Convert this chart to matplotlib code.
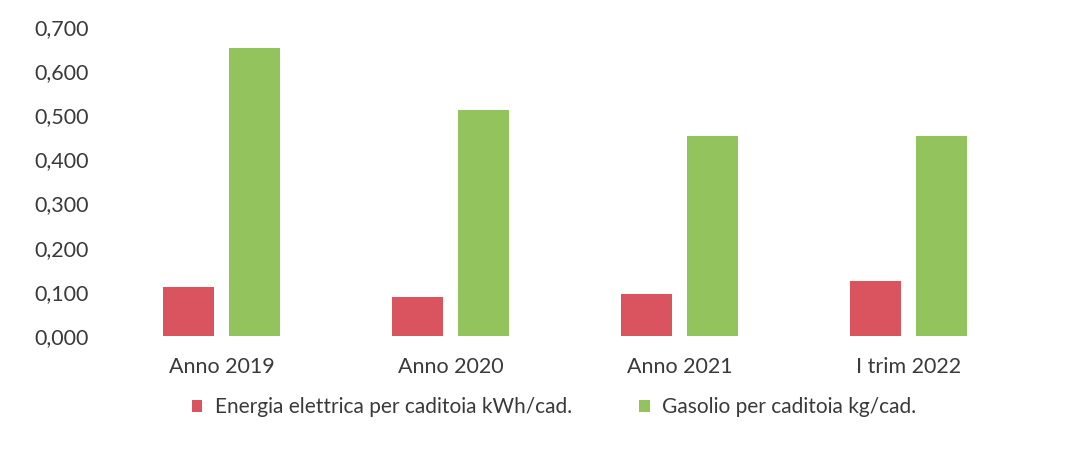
import matplotlib.pyplot as plt
import numpy as np
from matplotlib.ticker import FuncFormatter

plt.rcParams['font.family'] = ['Lato', 'DejaVu Sans']

categorie = ['Anno 2019', 'Anno 2020', 'Anno 2021', 'I trim 2022']
energia = [0.111, 0.088, 0.095, 0.125]
gasolio = [0.653, 0.512, 0.454, 0.454]
serie = ['Energia elettrica per caditoia kWh/cad.', 'Gasolio per caditoia kg/cad.']

fig = plt.figure(figsize=(10.74, 4.59), dpi=100)
ax = fig.add_axes([107 / 1074, 1 - 336 / 459, (1023 - 107) / 1074, (336 - 27) / 459])

x = np.arange(len(categorie))
w = 0.223
ax.bar(x - 0.145, energia, w, color='#d9545f', label=serie[0])
ax.bar(x + 0.145, gasolio, w, color='#93c35c', label=serie[1])

ax.set_xlim(-0.5, len(categorie) - 0.5)
ax.set_ylim(0, 0.7)
ax.set_yticks(np.arange(0, 0.71, 0.1))
ax.yaxis.set_major_formatter(FuncFormatter(lambda v, p: f'{v:.3f}'.replace('.', ',')))
ax.set_xticks(x)
ax.set_xticklabels(categorie)
ax.tick_params(length=0, labelsize=15.5, colors='#3a3a3a')
ax.tick_params(axis='x', pad=15)
ax.tick_params(axis='y', pad=13)
for s in ax.spines.values():
    s.set_visible(False)

ax.legend(loc='center', bbox_to_anchor=(0.488, -0.23), ncol=2, frameon=False,
          fontsize=15, labelcolor='#3a3a3a', handlelength=0.5, handleheight=0.5,
          columnspacing=3.25, handletextpad=0.6)

plt.savefig('out.png')
